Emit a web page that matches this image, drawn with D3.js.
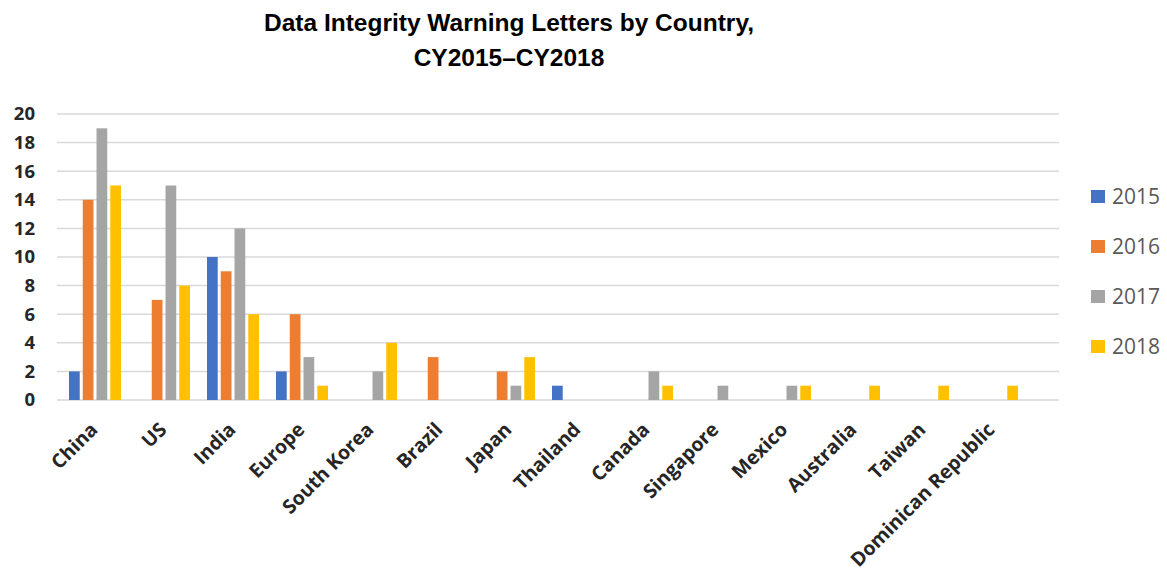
<!DOCTYPE html>
<html>
<head>
<meta charset="utf-8">
<script src="https://cdn.jsdelivr.net/npm/d3@7"></script>
<style>
  body { margin: 0; background: #fff; }
  svg { display: block; }
</style>
</head>
<body>
<script>
const categories = ["China", "US", "India", "Europe", "South Korea", "Brazil", "Japan", "Thailand", "Canada", "Singapore", "Mexico", "Australia", "Taiwan", "Dominican Republic"];
const seriesNames = ["2015", "2016", "2017", "2018"];
const values2015 = [2, 0, 10, 2, 0, 0, 0, 1, 0, 0, 0, 0, 0, 0];
const values2016 = [14, 7, 9, 6, 0, 3, 2, 0, 0, 0, 0, 0, 0, 0];
const values2017 = [19, 15, 12, 3, 2, 0, 1, 0, 2, 1, 1, 0, 0, 0];
const values2018 = [15, 8, 6, 1, 4, 0, 3, 0, 1, 0, 1, 1, 1, 1];
const yTicks = [0, 2, 4, 6, 8, 10, 12, 14, 16, 18, 20];
const colors = ["#4472C4", "#ED7D31", "#A5A5A5", "#FFC000"];
const titleLines = ["Data Integrity Warning Letters by Country,", "CY2015\u2013CY2018"];

const seriesValues = [values2015, values2016, values2017, values2018];
const W = 1167, H = 577;
const plotLeft = 57, plotRight = 1059, plotTop = 114, plotBottom = 400;

const svg = d3.select("body").append("svg").attr("width", W).attr("height", H);

// Title
svg.append("g").selectAll("text").data(titleLines).join("text")
  .attr("x", 509).attr("y", (d, i) => 31 + i * 35)
  .attr("text-anchor", "middle")
  .attr("font-family", "Liberation Sans, Arial, sans-serif")
  .attr("font-weight", "bold").attr("font-size", 24.5).attr("fill", "#000")
  .text(d => d);

const y = d3.scaleLinear().domain([0, 20]).range([plotBottom, plotTop]);
const x = d3.scaleBand().domain(categories).range([63, 63 + 69 * categories.length]).paddingInner(0).paddingOuter(0);
const xs = d3.scaleBand().domain(seriesNames).range([6, 58]).paddingInner(0.22).paddingOuter(0);

// gridlines
svg.append("g").selectAll("line").data(yTicks).join("line")
  .attr("x1", plotLeft).attr("x2", plotRight)
  .attr("y1", d => y(d)).attr("y2", d => y(d))
  .attr("stroke", "#D9D9D9").attr("stroke-width", 1.5);

// y axis labels
const yAxis = d3.axisLeft(y).tickValues(yTicks).tickSize(0).tickPadding(0);
const yg = svg.append("g").attr("transform", `translate(35,0)`).call(yAxis);
yg.select(".domain").remove();
yg.selectAll("text")
  .attr("font-family", "Open Sans, sans-serif").attr("font-weight", "bold")
  .attr("font-size", 18.5).attr("fill", "#262626");

// bars
const data = [];
categories.forEach((c, ci) => seriesNames.forEach((s, si) => {
  data.push({ c, s, si, v: seriesValues[si][ci] });
}));
svg.append("g").selectAll("rect").data(data.filter(d => d.v > 0)).join("rect")
  .attr("x", d => x(d.c) + xs(d.s))
  .attr("y", d => y(d.v))
  .attr("width", xs.bandwidth())
  .attr("height", d => y(0) - y(d.v))
  .attr("fill", d => colors[d.si]);

// x axis labels
const xg = svg.append("g").attr("transform", `translate(0,${plotBottom})`)
  .call(d3.axisBottom(x).tickSize(0).tickPadding(0));
xg.select(".domain").remove();
xg.selectAll("text")
  .attr("font-family", "Open Sans, sans-serif").attr("font-weight", "bold")
  .attr("font-size", 19.5).attr("fill", "#262626")
  .attr("text-anchor", "end")
  .attr("transform", "translate(-3.5,26) rotate(-45)")
  .attr("dy", "0.35em").attr("x", 0).attr("y", 0);

// legend
const leg = svg.append("g").selectAll("g").data(seriesNames).join("g")
  .attr("transform", (d, i) => `translate(1091,${197 + i * 50})`);
leg.append("rect").attr("x", 0).attr("y", -7).attr("width", 14).attr("height", 13)
  .attr("fill", (d, i) => colors[i]);
leg.append("text").attr("x", 21).attr("y", 0).attr("dy", "0.35em")
  .attr("font-family", "Open Sans, sans-serif").attr("font-size", 21)
  .attr("fill", "#595959").text(d => d);
</script>
</body>
</html>
